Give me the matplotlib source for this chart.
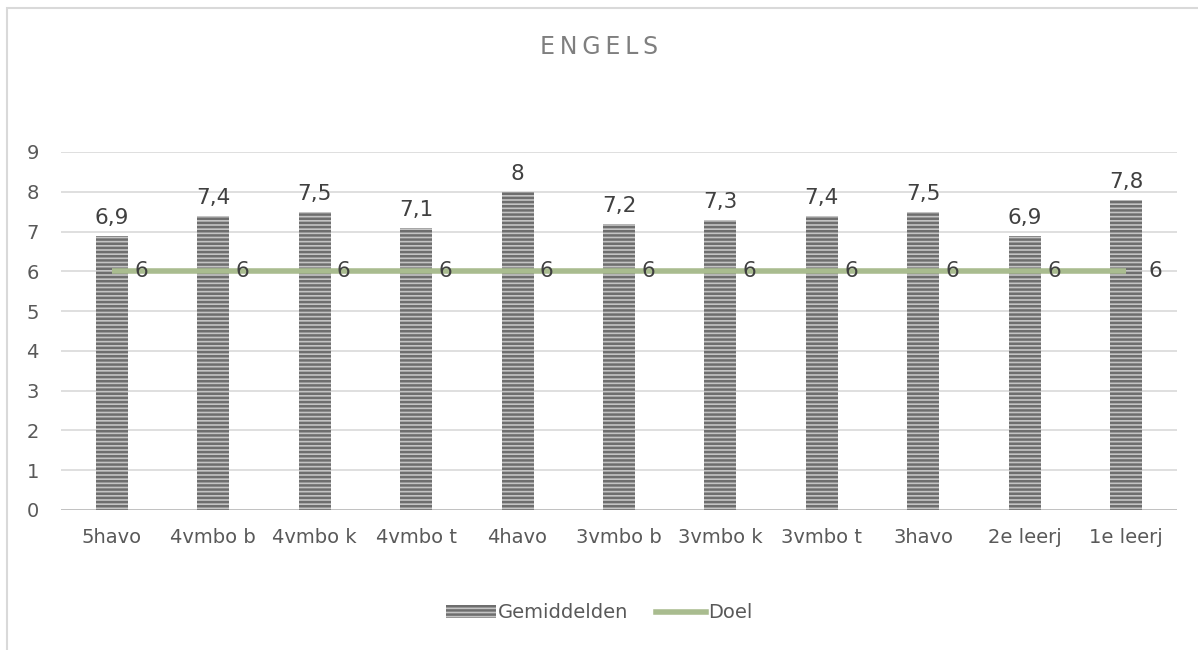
import matplotlib
matplotlib.use('agg')
import matplotlib.pyplot as plt
from matplotlib.patches import Rectangle, Patch
from matplotlib.lines import Line2D
import numpy as np

# Données du graphique
klassen = ['5havo', '4vmbo b', '4vmbo k', '4vmbo t', '4havo', '3vmbo b',
           '3vmbo k', '3vmbo t', '3havo', '2e leerj', '1e leerj']
gemiddelden = [6.9, 7.4, 7.5, 7.1, 8, 7.2, 7.3, 7.4, 7.5, 6.9, 7.8]
doel = [6, 6, 6, 6, 6, 6, 6, 6, 6, 6, 6]

plt.rcParams['hatch.linewidth'] = 1.8
plt.rcParams['font.family'] = ['DejaVu Sans']

fig = plt.figure(figsize=(11.98, 6.5), dpi=100, facecolor='white')
ax = fig.add_axes([0.0509, 0.2154, 0.9316, 0.5508])

# cadre du graphique (partiellement coupé à droite et en bas)
fig.patches.append(Rectangle((7 / 1198, -0.1), 1.2, 1 - 8 / 650 + 0.1,
                             transform=fig.transFigure, fill=False,
                             edgecolor='#d9d9d9', linewidth=1.5))

x = np.arange(len(klassen))
ax.bar(x, gemiddelden, 0.315, color='#c4c4c4', edgecolor='#6e6e6e',
       hatch='----', linewidth=0, zorder=2)
ax.plot(x, doel, color='#a9bc8f', linewidth=4, solid_capstyle='butt', zorder=3)
ax.axhline(0, color='#bfbfbf', linewidth=2, zorder=1)

for xi, v in zip(x, gemiddelden):
    txt = ('%g' % v).replace('.', ',')
    ax.text(xi, v + 0.2, txt, ha='center', va='bottom', fontsize=15.5,
            color='#404040')
for xi, v in zip(x, doel):
    ax.text(xi + 0.22, v, '%g' % v, ha='left', va='center', fontsize=15.5,
            color='#404040', zorder=4)

ax.set_xlim(-0.5, len(klassen) - 0.5)
ax.set_ylim(0, 9)
ax.set_yticks(range(10))
ax.set_xticks(x)
ax.set_xticklabels(klassen)
ax.grid(axis='y', color='#d9d9d9', linewidth=1.2, zorder=0)
ax.set_axisbelow(True)
for s in ax.spines.values():
    s.set_visible(False)
ax.tick_params(length=0, labelsize=14, labelcolor='#595959')
ax.tick_params(axis='y', pad=16)
ax.tick_params(axis='x', pad=13)

fig.text(0.5, 1 - 47 / 650, '\u2009'.join('ENGELS'), ha='center',
         va='center', fontsize=17, color='#7f7f7f')

handles = [Patch(facecolor='#c4c4c4', edgecolor='#6e6e6e', hatch='----',
                 linewidth=0),
           Line2D([0], [0], color='#a9bc8f', linewidth=4)]
fig.legend(handles, ['Gemiddelden', 'Doel'], loc='center',
           bbox_to_anchor=(0.5, 1 - 613 / 650), ncol=2, frameon=False,
           fontsize=14, labelcolor='#595959', handlelength=2.6,
           handleheight=0.6, handletextpad=0.1, columnspacing=1.4)

fig.savefig('out.png', dpi=100, facecolor='white')
plt.close()
